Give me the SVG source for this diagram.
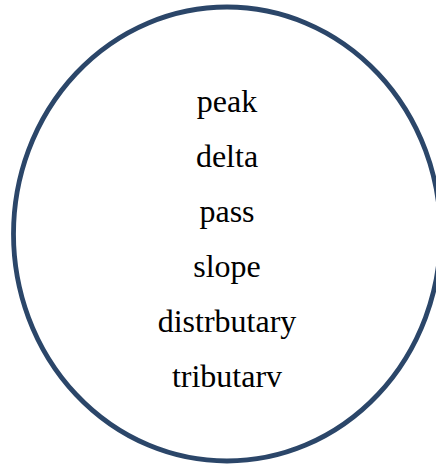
<svg xmlns="http://www.w3.org/2000/svg" width="436" height="465" viewBox="0 0 436 465">
<style>
.t{font-family:"Liberation Serif","Times New Roman",serif;font-size:32px;fill:#000;text-anchor:middle}
</style>
<rect width="436" height="465" fill="#fff"/>
<g id="circle">
<ellipse cx="227" cy="234" rx="213.5" ry="227" fill="#fff" stroke="#2b4669" stroke-width="4.8"/>
</g>
<g id="labels">
<text class="t" x="227" y="112">peak</text>
<text class="t" x="227" y="167">delta</text>
<text class="t" x="227" y="222">pass</text>
<text class="t" x="227" y="277">slope</text>
<text class="t" x="227" y="332">distrbutary</text>
<text class="t" x="227" y="387">tributarv</text>
</g>
</svg>
